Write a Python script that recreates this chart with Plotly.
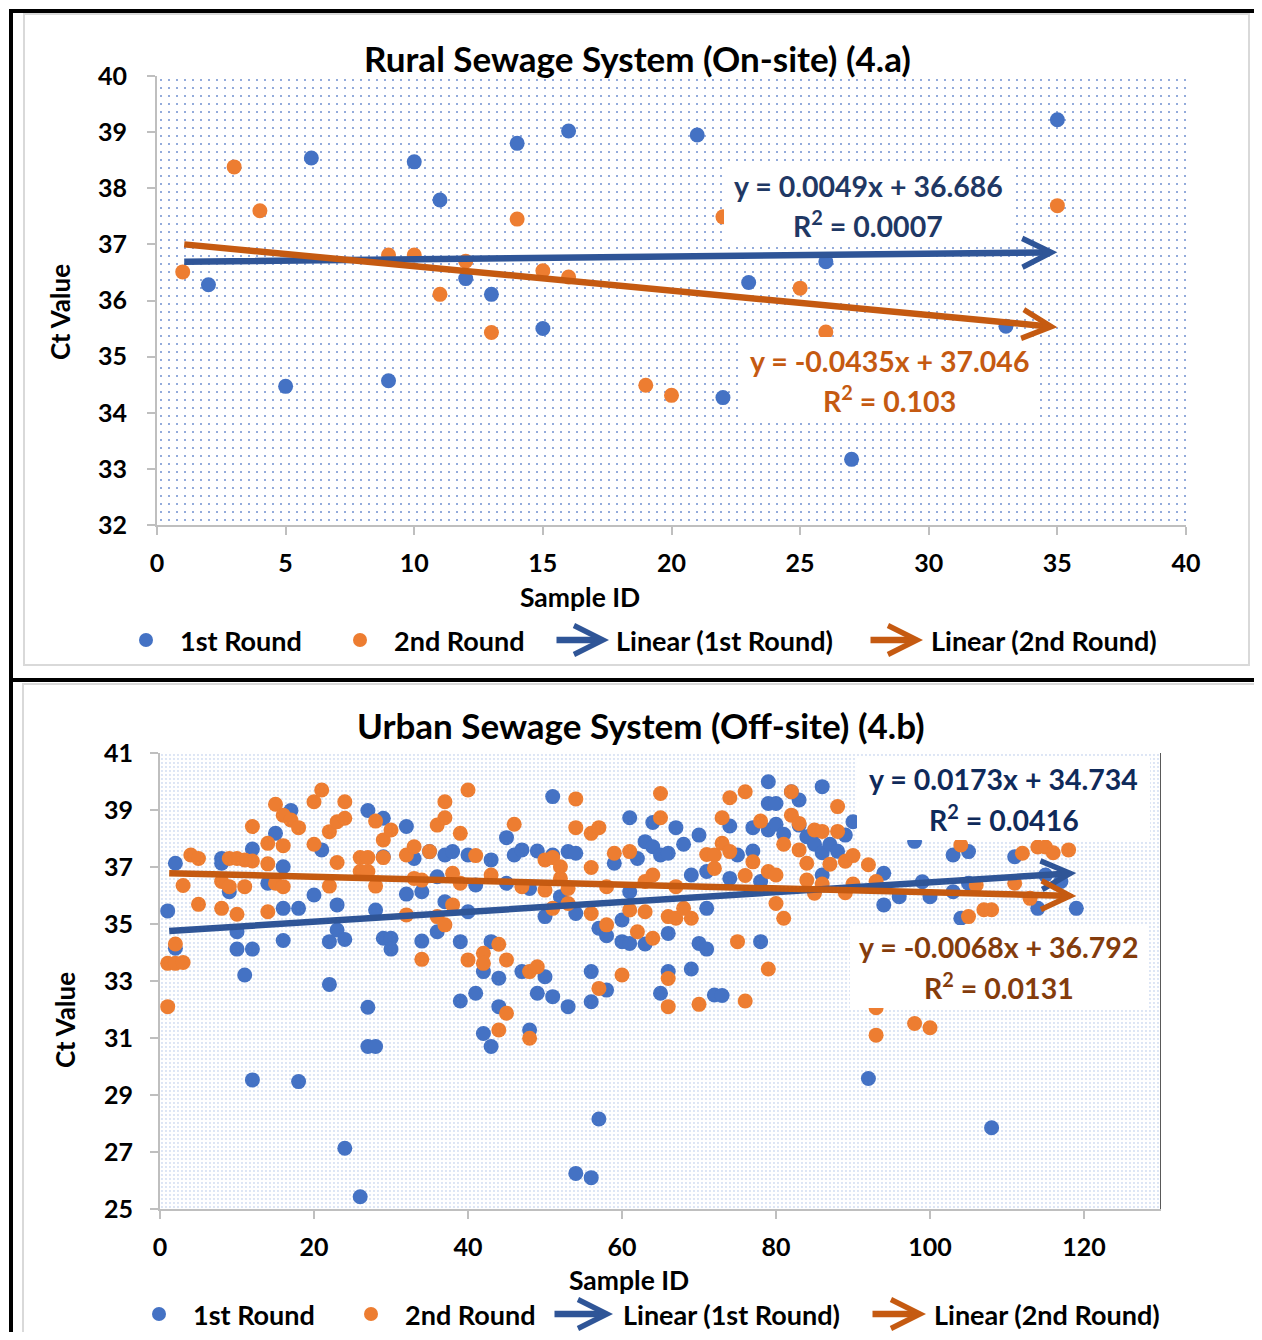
import plotly.graph_objects as go

REF_W, REF_H = 1262, 1340
OFF = 8                       # page body margin
W, H = REF_W - 2 * OFF, REF_H - 2 * OFF
FONT = "Lato"

# ---------------- data: Rural (4.a) ----------------
rural_r1_id = [2, 5, 6, 9, 10, 11, 12, 13, 14, 15, 16, 21, 22, 23, 26, 27, 33, 35]
rural_r1_ct = [36.28, 34.47, 38.54, 34.57, 38.47, 37.79, 36.39, 36.11, 38.80, 35.50,
               39.02, 38.95, 34.27, 36.32, 36.69, 33.17, 35.54, 39.22]
rural_r2_id = [1, 3, 4, 9, 10, 11, 12, 13, 14, 15, 16, 19, 20, 22, 25, 26, 35]
rural_r2_ct = [36.51, 38.38, 37.60, 36.81, 36.81, 36.11, 36.70, 35.43, 37.45, 36.53,
               36.42, 34.49, 34.31, 37.49, 36.22, 35.44, 37.69]
rural_fit_r1 = [0.0049, 36.686, 0.0007]   # slope, intercept, R2
rural_fit_r2 = [-0.0435, 37.046, 0.103]
rural_fit_span = [1, 35]

# ---------------- data: Urban (4.b) ----------------
urban_r1_id = [1, 2, 2, 8, 8, 9, 10, 10, 11, 12, 12, 12, 14, 15, 16, 16, 16, 17, 18, 18,
               20, 21, 22, 22, 23, 23, 24, 24, 26, 27, 27, 27, 28, 28, 29, 29, 29, 30, 30,
               32, 32, 33, 34, 34, 35, 36, 36, 37, 37, 38, 39, 39, 40, 40, 41, 41, 42, 42,
               43, 43, 43, 45, 46, 47, 45, 44, 44, 47, 48, 48, 49, 49, 50, 50, 51, 51, 51,
               52, 53, 53, 54, 54, 54, 56, 56, 56, 57, 57, 58, 58, 59, 60, 60, 61, 61, 61,
               62, 63, 63, 64, 64, 65, 66, 66, 66, 65, 67, 68, 69, 69, 70, 70, 71, 71, 71,
               72, 73, 74, 74, 75, 77, 77, 78, 78, 79, 79, 79, 80, 80, 81, 82, 83, 83, 84,
               85, 86, 86, 86, 85, 87, 88, 90, 89, 94, 94, 96, 98, 99, 100, 103, 103, 105,
               105, 104, 111, 114, 115, 117, 119, 92, 108]
urban_r1_ct = [35.46, 37.13, 34.15, 37.30, 37.13, 36.13, 34.73, 34.12, 33.21, 34.12, 37.63,
               29.53, 36.43, 38.18, 37.01, 35.55, 34.42, 38.98, 35.55, 29.47, 36.02, 37.60,
               34.38, 32.88, 35.67, 34.79, 34.46, 27.13, 25.43, 38.98, 32.08, 30.70, 30.70,
               35.49, 38.71, 37.36, 34.50, 34.50, 34.12, 38.42, 36.05, 37.30, 36.13, 34.40,
               37.54, 36.66, 34.73, 35.78, 37.42, 37.54, 34.38, 32.30, 37.42, 35.43, 36.37,
               32.57, 33.33, 31.16, 30.70, 37.25, 34.38, 38.03, 37.42, 37.60, 36.43, 33.10,
               32.10, 33.33, 36.25, 31.28, 37.56, 32.57, 35.26, 33.15, 39.47, 37.42, 32.45,
               35.96, 37.54, 32.10, 37.48, 35.37, 26.25, 26.10, 32.27, 33.33, 34.85, 28.16,
               34.59, 32.68, 37.13, 35.14, 34.38, 38.73, 36.13, 34.32, 37.30, 37.89, 34.30,
               37.71, 38.56, 37.42, 37.48, 34.67, 33.33, 32.57, 38.38, 37.80, 36.72, 33.42,
               38.12, 34.32, 36.84, 35.55, 34.12, 32.51, 32.49, 38.44, 36.60, 37.42, 38.38,
               37.56, 34.38, 36.49, 39.99, 39.23, 38.30, 39.23, 38.50, 38.15, 39.64, 39.35,
               38.47, 38.06, 37.80, 37.50, 39.82, 36.72, 38.24, 37.80, 37.55, 38.59, 38.12,
               36.78, 35.67, 35.96, 37.90, 36.48, 35.96, 37.42, 36.13, 37.54, 36.43, 35.20,
               37.36, 35.55, 36.72, 36.49, 35.55, 29.58, 27.85]
urban_r2_id = [1, 2, 3, 2, 1, 3, 4, 5, 5, 8, 8, 9, 9, 10, 10, 11, 11, 12, 12, 14, 14, 14,
               15, 15, 16, 16, 16, 17, 18, 20, 20, 21, 22, 22, 23, 23, 24, 24, 26, 26, 27,
               27, 28, 28, 29, 29, 30, 32, 32, 33, 33, 34, 34, 35, 36, 36, 37, 37, 37, 38,
               38, 39, 39, 40, 40, 41, 42, 42, 43, 44, 45, 45, 44, 46, 47, 48, 49, 48, 50,
               50, 51, 51, 52, 52, 53, 53, 54, 54, 56, 57, 56, 56, 57, 58, 58, 59, 60, 61,
               61, 62, 63, 63, 64, 64, 65, 65, 66, 66, 66, 67, 67, 68, 69, 70, 71, 72, 72,
               73, 73, 74, 74, 75, 76, 76, 76, 77, 78, 79, 79, 80, 80, 81, 81, 82, 82, 83,
               83, 84, 84, 85, 85, 88, 86, 88, 87, 89, 90, 86, 89, 90, 92, 93, 93, 93, 98,
               100, 104, 105, 106, 107, 108, 111, 112, 114, 115, 116, 118, 113]
urban_r2_ct = [33.62, 33.62, 33.65, 34.30, 32.10, 36.35, 37.42, 37.30, 35.69, 35.55, 36.49,
               37.30, 36.31, 37.30, 35.34, 37.25, 36.31, 37.21, 38.42, 37.83, 37.11, 35.43,
               39.20, 36.43, 38.82, 37.75, 36.31, 38.65, 38.38, 39.29, 37.80, 39.70, 38.24,
               36.33, 38.59, 37.16, 39.29, 38.71, 37.33, 36.84, 37.33, 36.84, 38.61, 36.33,
               37.95, 37.33, 38.30, 37.42, 35.32, 37.71, 36.60, 36.54, 33.76, 37.54, 38.47,
               35.26, 39.29, 38.73, 34.97, 36.78, 35.67, 38.18, 36.43, 39.70, 33.74, 37.40,
               33.97, 33.62, 36.72, 34.29, 33.74, 31.87, 31.28, 38.50, 36.31, 33.33, 33.50,
               30.99, 37.25, 36.19, 37.33, 35.55, 37.01, 36.60, 35.72, 36.25, 39.39, 38.38,
               38.18, 38.38, 36.98, 35.37, 32.74, 34.97, 36.31, 37.48, 33.21, 37.54, 35.49,
               34.73, 35.43, 36.49, 36.72, 34.50, 39.58, 38.73, 35.26, 33.09, 32.10, 35.20,
               36.31, 35.55, 35.20, 32.18, 37.44, 37.42, 36.95, 38.73, 37.83, 39.43, 37.54,
               34.38, 39.64, 36.70, 32.30, 37.18, 38.61, 36.84, 33.42, 36.72, 35.72, 37.80,
               35.20, 39.64, 38.82, 38.53, 37.60, 37.13, 36.54, 38.30, 36.08, 39.12, 38.25,
               38.25, 37.10, 37.20, 37.40, 36.40, 36.10, 36.40, 37.08, 36.49, 32.06, 31.10,
               31.51, 31.36, 37.77, 35.26, 36.37, 35.50, 35.50, 36.43, 37.48, 37.70, 37.70,
               37.50, 37.60, 35.90]
urban_fit_r1 = [0.0173, 34.734, 0.0416]
urban_fit_r2 = [-0.0068, 36.792, 0.0131]
urban_fit_span = [1, 119]

rural_x_ticks = [0, 5, 10, 15, 20, 25, 30, 35, 40]
rural_y_ticks = [32, 33, 34, 35, 36, 37, 38, 39, 40]
urban_x_ticks = [0, 20, 40, 60, 80, 100, 120]
urban_x_max = 130
urban_y_ticks = [25, 27, 29, 31, 33, 35, 37, 39, 41]

# ---------------- styling ----------------
BLUE, ORANGE = "#4472C4", "#ED7D31"
BLUE_LINE, ORANGE_LINE = "#2F5597", "#C55A11"
AXIS_GREY = "#BFBFBF"
TREND_W = 6.5
HEAD = 0.87


def px(x):
    return (x - OFF) / W


def py(y):
    return 1 - (y - OFF) / H


def bold(size, color="#000000"):
    return dict(family=FONT, size=size, color=color, weight="bold")


fig = go.Figure()

# patterned plot-area backgrounds
fig.add_trace(go.Scatter(x=[rural_x_ticks[0], rural_x_ticks[-1], rural_x_ticks[-1], rural_x_ticks[0], rural_x_ticks[0]],
                         y=[rural_y_ticks[0], rural_y_ticks[0], rural_y_ticks[-1], rural_y_ticks[-1], rural_y_ticks[0]],
                         mode="none", fill="toself", hoverinfo="skip", showlegend=False,
                         fillpattern=dict(shape=".", size=8, solidity=0.05, fgcolor="#6F8FD0",
                                          bgcolor="white", fillmode="replace"),
                         xaxis="x", yaxis="y"))
fig.add_trace(go.Scatter(x=[0, urban_x_max, urban_x_max, 0, 0],
                         y=[urban_y_ticks[0], urban_y_ticks[0], urban_y_ticks[-1], urban_y_ticks[-1], urban_y_ticks[0]],
                         mode="none", fill="toself", hoverinfo="skip", showlegend=False,
                         fillpattern=dict(shape=".", size=4, solidity=0.10, fgcolor="#A9BFE6",
                                          bgcolor="white", fillmode="replace"),
                         xaxis="x2", yaxis="y2"))

# points
mk = dict(size=15, line=dict(width=0))
fig.add_trace(go.Scatter(x=rural_r1_id, y=rural_r1_ct, mode="markers", name="1st Round",
                         marker=dict(color=BLUE, **mk), showlegend=False, xaxis="x", yaxis="y"))
fig.add_trace(go.Scatter(x=rural_r2_id, y=rural_r2_ct, mode="markers", name="2nd Round",
                         marker=dict(color=ORANGE, **mk), showlegend=False, xaxis="x", yaxis="y"))
fig.add_trace(go.Scatter(x=urban_r1_id, y=urban_r1_ct, mode="markers", name="1st Round",
                         marker=dict(color=BLUE, **mk), showlegend=False, xaxis="x2", yaxis="y2"))
fig.add_trace(go.Scatter(x=urban_r2_id, y=urban_r2_ct, mode="markers", name="2nd Round",
                         marker=dict(color=ORANGE, **mk), showlegend=False, xaxis="x2", yaxis="y2"))

annotations = []
shapes = []


def trend_arrow(fit, span, color, xr, yr):
    x0, x1 = span
    annotations.append(dict(x=x1, y=fit[0] * x1 + fit[1], ax=x0, ay=fit[0] * x0 + fit[1],
                            xref=xr, yref=yr, axref=xr, ayref=yr, text="", showarrow=True,
                            arrowhead=5, arrowsize=HEAD, arrowwidth=TREND_W, arrowcolor=color))


trend_arrow(rural_fit_r1, rural_fit_span, BLUE_LINE, "x", "y")
trend_arrow(rural_fit_r2, rural_fit_span, ORANGE_LINE, "x", "y")
trend_arrow(urban_fit_r1, urban_fit_span, BLUE_LINE, "x2", "y2")
trend_arrow(urban_fit_r2, urban_fit_span, ORANGE_LINE, "x2", "y2")


def eq_label(fit, box, color):
    l, t, r, b = box
    shapes.append(dict(type="rect", xref="paper", yref="paper", x0=px(l), x1=px(r),
                       y0=py(b), y1=py(t), fillcolor="white", line=dict(width=0), layer="above"))
    cx = (l + r) / 2
    cy = (t + b) / 2
    sign = "-" if fit[0] < 0 else ""
    line1 = f"y = {sign}{abs(fit[0]):g}x + {fit[1]:g}"
    line2 = f"R<sup>2</sup> = {fit[2]:g}"
    annotations.append(dict(x=px(cx), y=py(cy - 19.5), xref="paper", yref="paper", text=line1,
                            showarrow=False, font=bold(28.5, color), xanchor="center", yanchor="middle"))
    annotations.append(dict(x=px(cx), y=py(cy + 19.5), xref="paper", yref="paper", text=line2,
                            showarrow=False, font=bold(28.5, color), xanchor="center", yanchor="middle"))


eq_label(rural_fit_r1, (724, 163, 1012, 247), "#1F3864")
eq_label(rural_fit_r2, (741, 337, 1037, 423), "#C55A11")
eq_label(urban_fit_r1, (857, 757, 1150, 840), "#0F2A5A")
eq_label(urban_fit_r2, (850, 925, 1147, 1008), "#843C0C")

# titles & axis titles
annotations.append(dict(x=px(637), y=py(58), xref="paper", yref="paper", showarrow=False,
                        text="Rural Sewage System (On-site) (4.a)", font=bold(35),
                        xanchor="center", yanchor="middle"))
annotations.append(dict(x=px(641), y=py(725), xref="paper", yref="paper", showarrow=False,
                        text="Urban Sewage System (Off-site) (4.b)", font=bold(35),
                        xanchor="center", yanchor="middle"))
for (x, y) in [(60, 312), (65, 1020)]:
    annotations.append(dict(x=px(x), y=py(y), xref="paper", yref="paper", showarrow=False,
                            text="Ct Value", textangle=-90, font=bold(26),
                            xanchor="center", yanchor="middle"))
for (x, y) in [(580, 597), (629, 1280)]:
    annotations.append(dict(x=px(x), y=py(y), xref="paper", yref="paper", showarrow=False,
                            text="Sample ID", font=bold(26.5), xanchor="center", yanchor="middle"))


# legends
def legend(yc, d1, t1, d2, t2, a1, t3, a2, t4):
    for cx, col in [(d1, BLUE), (d2, ORANGE)]:
        shapes.append(dict(type="circle", xref="paper", yref="paper", x0=px(cx - 7), x1=px(cx + 7),
                           y0=py(yc + 7), y1=py(yc - 7), fillcolor=col, line=dict(width=0)))
    for (s, e), col in [(a1, BLUE_LINE), (a2, ORANGE_LINE)]:
        annotations.append(dict(x=px(e), y=py(yc), xref="paper", yref="paper", ax=-(e - s), ay=0,
                                text="", showarrow=True, arrowhead=5, arrowsize=HEAD,
                                arrowwidth=TREND_W, arrowcolor=col))
    for x, txt in [(t1, "1st Round"), (t2, "2nd Round"), (t3, "Linear (1st Round)"),
                   (t4, "Linear (2nd Round)")]:
        annotations.append(dict(x=px(x), y=py(yc), xref="paper", yref="paper", showarrow=False,
                                text=txt, font=bold(27), xanchor="left", yanchor="middle"))


legend(640, 146, 178, 360, 392, (555, 609), 614, (869, 923), 929)
legend(1314, 159, 191, 371, 403, (553, 613), 621, (871, 926), 932)

# frames
shapes.append(dict(type="rect", xref="paper", yref="paper", x0=px(24), x1=px(1249), y0=py(665),
                   y1=py(14), line=dict(color="#D9D9D9", width=2), layer="below"))
shapes.append(dict(type="rect", xref="paper", yref="paper", x0=px(23), x1=px(1257), y0=py(1335),
                   y1=py(684), line=dict(color="#D9D9D9", width=2), layer="below"))
for (x0, y0, x1, y1) in [(11, 9, 11, 1332), (9, 11, 1254, 11), (9, 680, 1254, 680)]:
    shapes.append(dict(type="line", xref="paper", yref="paper", x0=px(x0), x1=px(x1), y0=py(y0),
                       y1=py(y1), line=dict(color="black", width=4)))
# right border of urban plot area
shapes.append(dict(type="line", xref="x2", yref="y2", x0=urban_x_max, x1=urban_x_max,
                   y0=urban_y_ticks[0], y1=urban_y_ticks[-1], line=dict(color="#595959", width=2)))

axis_common = dict(showgrid=False, zeroline=False, showline=True, linecolor=AXIS_GREY, linewidth=2,
                   ticks="outside", ticklen=8, tickcolor=AXIS_GREY, tickwidth=2,
                   tickfont=bold(25), fixedrange=True, automargin=False)

fig.update_layout(
    width=W, height=H, autosize=False,
    margin=dict(l=0, r=0, t=0, b=0, pad=0, autoexpand=False),
    paper_bgcolor="white", plot_bgcolor="white", showlegend=False,
    xaxis=dict(domain=[px(157), px(1186)], range=[0, 40], tickvals=rural_x_ticks,
               anchor="y", ticklabelstandoff=7, **axis_common),
    yaxis=dict(domain=[py(525), py(76)], range=[32, 40], tickvals=rural_y_ticks,
               anchor="x", ticklabelstandoff=15, **axis_common),
    xaxis2=dict(domain=[px(160), px(1161)], range=[0, urban_x_max], tickvals=urban_x_ticks,
                anchor="y2", ticklabelstandoff=7, **axis_common),
    yaxis2=dict(domain=[py(1209), py(753)], range=[25, 41], tickvals=urban_y_ticks,
                anchor="x2", ticklabelstandoff=12, **axis_common),
    annotations=annotations, shapes=shapes,
)

fig.write_html("out.html")
